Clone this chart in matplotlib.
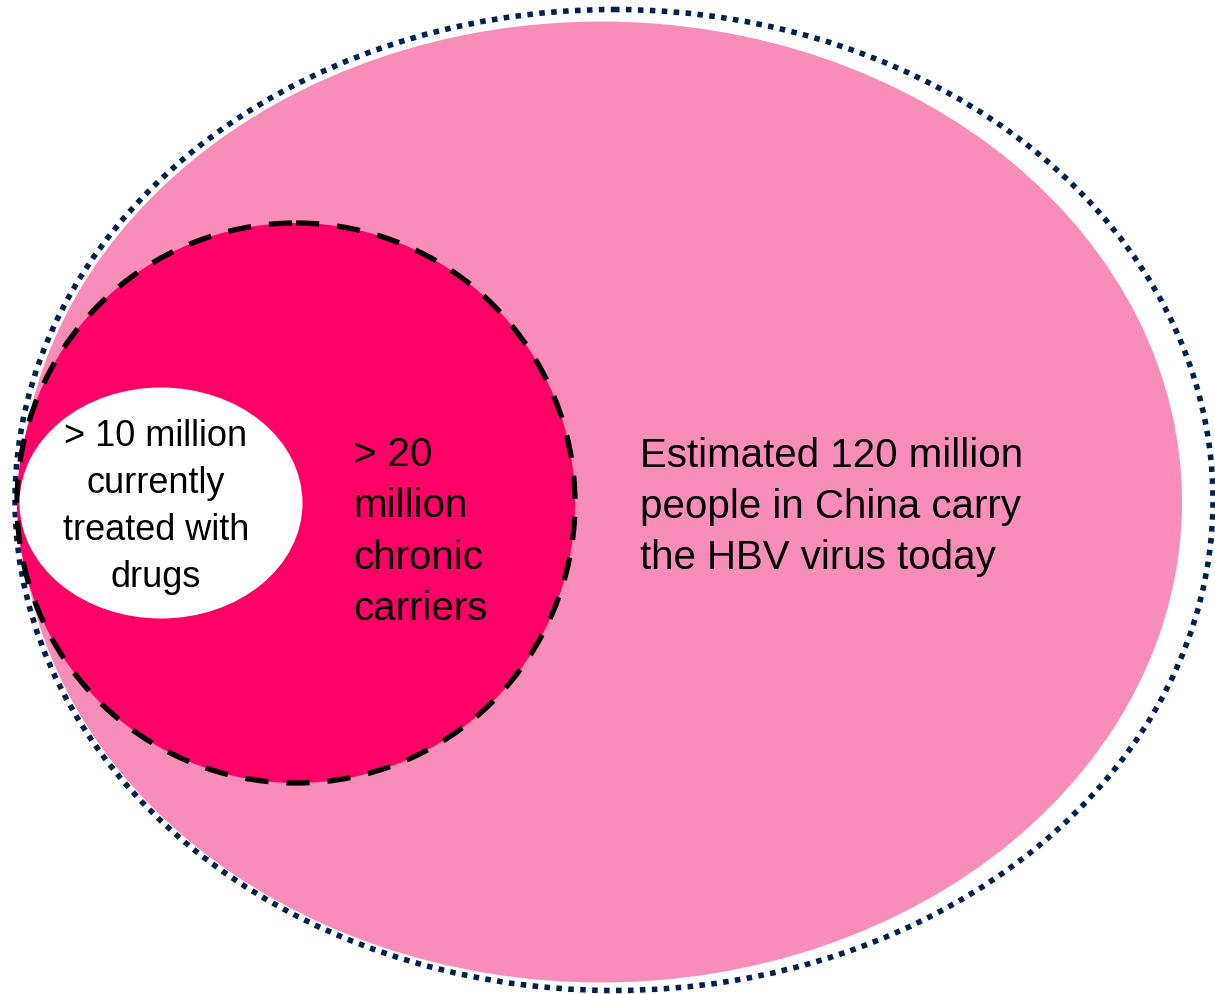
import matplotlib.pyplot as plt
from matplotlib.patches import Ellipse

# labels for the three nested groups (outer to inner)
labels = [
    "Estimated 120 million\npeople in China carry\nthe HBV virus today",
    "> 20\nmillion\nchronic\ncarriers",
    "> 10 million\ncurrently\ntreated with\ndrugs",
]
# population in millions
population = [120, 20, 10]

W, H = 1215, 994

plt.rcParams["font.family"] = ["Liberation Sans", "DejaVu Sans"]

fig = plt.figure(figsize=(W / 100, H / 100), dpi=100)
ax = fig.add_axes([0, 0, 1, 1])
ax.set_xlim(0, W)
ax.set_ylim(H, 0)
ax.axis("off")

# outer population: pink fill, slightly offset dotted border
ax.add_patch(Ellipse((601, 502), 1162, 961, facecolor="#F98DB9", edgecolor="none"))
ax.add_patch(Ellipse((614, 500), 1198, 981, facecolor="none", edgecolor="#00204E",
                     linewidth=4.0, linestyle=(0, (1, 1.15)), capstyle="butt"))

# chronic carriers
ax.add_patch(Ellipse((296, 503), 558, 560, facecolor="#FF0066", edgecolor="black",
                     linewidth=3.8, linestyle=(0, (4.4, 3.4)), capstyle="butt"))

# treated with drugs
ax.add_patch(Ellipse((161, 503), 283, 231, facecolor="white", edgecolor="none"))

ax.text(640, 507, labels[0], fontsize=29, ha="left", va="center", linespacing=1.44)
ax.text(353, 532, labels[1], fontsize=29, ha="left", va="center", linespacing=1.44)
ax.text(156, 507, labels[2], fontsize=26, ha="center", va="center", linespacing=1.45)

plt.savefig("out.png", dpi=100)
